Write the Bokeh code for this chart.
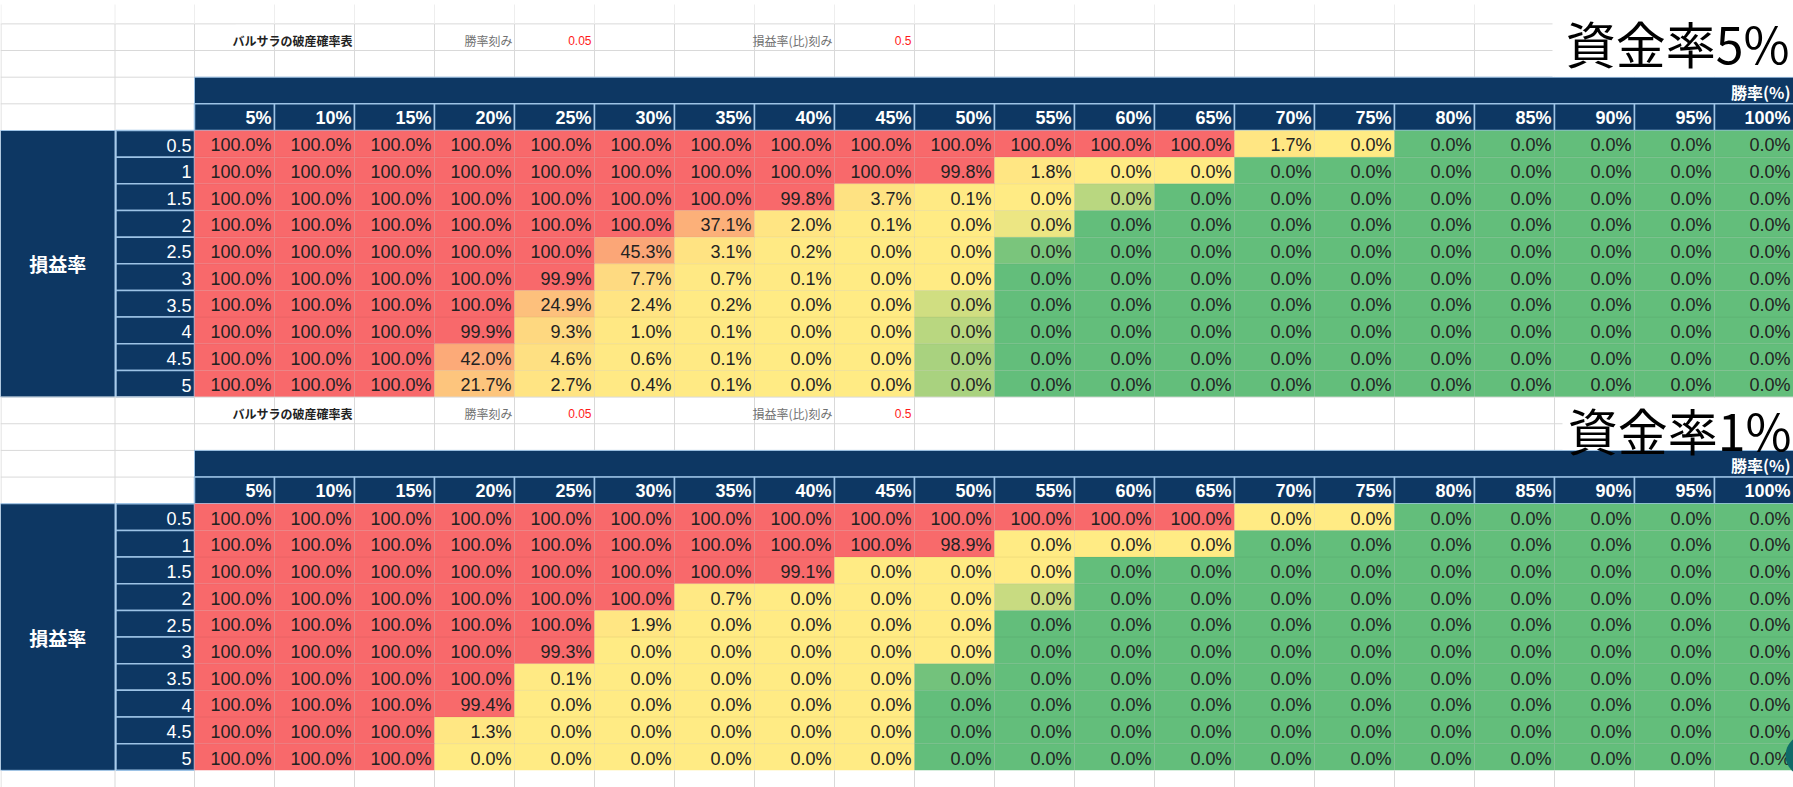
from bokeh.plotting import figure
from bokeh.models import Range1d
from bokeh.embed import file_html
from bokeh.resources import INLINE
from bokeh.core.properties import value

# ---------------- data ----------------
win_rates = ["5%", "10%", "15%", "20%", "25%", "30%", "35%", "40%", "45%", "50%",
             "55%", "60%", "65%", "70%", "75%", "80%", "85%", "90%", "95%", "100%"]
pl_ratios = ["0.5", "1", "1.5", "2", "2.5", "3", "3.5", "4", "4.5", "5"]

# ruin probability, capital rate 5%
ruin_5 = [
    [1, 1, 1, 1, 1, 1, 1, 1, 1, 1, 1, 1, 1, 0.017, 0, 0, 0, 0, 0, 0],
    [1, 1, 1, 1, 1, 1, 1, 1, 1, 0.998, 0.018, 0, 0, 0, 0, 0, 0, 0, 0, 0],
    [1, 1, 1, 1, 1, 1, 1, 0.998, 0.037, 0.001, 0, 0, 0, 0, 0, 0, 0, 0, 0, 0],
    [1, 1, 1, 1, 1, 1, 0.371, 0.020, 0.001, 0, 0, 0, 0, 0, 0, 0, 0, 0, 0, 0],
    [1, 1, 1, 1, 1, 0.453, 0.031, 0.002, 0, 0, 0, 0, 0, 0, 0, 0, 0, 0, 0, 0],
    [1, 1, 1, 1, 0.999, 0.077, 0.007, 0.001, 0, 0, 0, 0, 0, 0, 0, 0, 0, 0, 0, 0],
    [1, 1, 1, 1, 0.249, 0.024, 0.002, 0, 0, 0, 0, 0, 0, 0, 0, 0, 0, 0, 0, 0],
    [1, 1, 1, 0.999, 0.093, 0.010, 0.001, 0, 0, 0, 0, 0, 0, 0, 0, 0, 0, 0, 0, 0],
    [1, 1, 1, 0.420, 0.046, 0.006, 0.001, 0, 0, 0, 0, 0, 0, 0, 0, 0, 0, 0, 0, 0],
    [1, 1, 1, 0.217, 0.027, 0.004, 0.001, 0, 0, 0, 0, 0, 0, 0, 0, 0, 0, 0, 0, 0],
]
# colour-scale position on the green side (hidden precision of the 0.0% cells)
shade_5 = [
    [0, 0, 0, 0, 0, 0, 0, 0, 0, 0, 0, 0, 0, 0, 0, 1, 1, 1, 1, 1],
    [0, 0, 0, 0, 0, 0, 0, 0, 0, 0, 0, 0, 0, 1, 1, 1, 1, 1, 1, 1],
    [0, 0, 0, 0, 0, 0, 0, 0, 0, 0, 0, 0.45, 1, 1, 1, 1, 1, 1, 1, 1],
    [0, 0, 0, 0, 0, 0, 0, 0, 0, 0, 0.12, 1, 1, 1, 1, 1, 1, 1, 1, 1],
    [0, 0, 0, 0, 0, 0, 0, 0, 0, 0, 0.85, 1, 1, 1, 1, 1, 1, 1, 1, 1],
    [0, 0, 0, 0, 0, 0, 0, 0, 0, 0, 1, 1, 1, 1, 1, 1, 1, 1, 1, 1],
    [0, 0, 0, 0, 0, 0, 0, 0, 0, 0.30, 1, 1, 1, 1, 1, 1, 1, 1, 1, 1],
    [0, 0, 0, 0, 0, 0, 0, 0, 0, 0.45, 1, 1, 1, 1, 1, 1, 1, 1, 1, 1],
    [0, 0, 0, 0, 0, 0, 0, 0, 0, 0.55, 1, 1, 1, 1, 1, 1, 1, 1, 1, 1],
    [0, 0, 0, 0, 0, 0, 0, 0, 0, 0.55, 1, 1, 1, 1, 1, 1, 1, 1, 1, 1],
]

# ruin probability, capital rate 1%
ruin_1 = [
    [1, 1, 1, 1, 1, 1, 1, 1, 1, 1, 1, 1, 1, 0, 0, 0, 0, 0, 0, 0],
    [1, 1, 1, 1, 1, 1, 1, 1, 1, 0.989, 0, 0, 0, 0, 0, 0, 0, 0, 0, 0],
    [1, 1, 1, 1, 1, 1, 1, 0.991, 0, 0, 0, 0, 0, 0, 0, 0, 0, 0, 0, 0],
    [1, 1, 1, 1, 1, 1, 0.007, 0, 0, 0, 0, 0, 0, 0, 0, 0, 0, 0, 0, 0],
    [1, 1, 1, 1, 1, 0.019, 0, 0, 0, 0, 0, 0, 0, 0, 0, 0, 0, 0, 0, 0],
    [1, 1, 1, 1, 0.993, 0, 0, 0, 0, 0, 0, 0, 0, 0, 0, 0, 0, 0, 0, 0],
    [1, 1, 1, 1, 0.001, 0, 0, 0, 0, 0, 0, 0, 0, 0, 0, 0, 0, 0, 0, 0],
    [1, 1, 1, 0.994, 0, 0, 0, 0, 0, 0, 0, 0, 0, 0, 0, 0, 0, 0, 0, 0],
    [1, 1, 1, 0.013, 0, 0, 0, 0, 0, 0, 0, 0, 0, 0, 0, 0, 0, 0, 0, 0],
    [1, 1, 1, 0, 0, 0, 0, 0, 0, 0, 0, 0, 0, 0, 0, 0, 0, 0, 0, 0],
]
shade_1 = [
    [0, 0, 0, 0, 0, 0, 0, 0, 0, 0, 0, 0, 0, 0, 0, 1, 1, 1, 1, 1],
    [0, 0, 0, 0, 0, 0, 0, 0, 0, 0, 0, 0, 0, 1, 1, 1, 1, 1, 1, 1],
    [0, 0, 0, 0, 0, 0, 0, 0, 0, 0, 0, 1, 1, 1, 1, 1, 1, 1, 1, 1],
    [0, 0, 0, 0, 0, 0, 0, 0, 0, 0, 0.35, 1, 1, 1, 1, 1, 1, 1, 1, 1],
    [0, 0, 0, 0, 0, 0, 0, 0, 0, 0, 1, 1, 1, 1, 1, 1, 1, 1, 1, 1],
    [0, 0, 0, 0, 0, 0, 0, 0, 0, 0, 1, 1, 1, 1, 1, 1, 1, 1, 1, 1],
    [0, 0, 0, 0, 0, 0, 0, 0, 0, 0.90, 1, 1, 1, 1, 1, 1, 1, 1, 1, 1],
    [0, 0, 0, 0, 0, 0, 0, 0, 0, 1, 1, 1, 1, 1, 1, 1, 1, 1, 1, 1],
    [0, 0, 0, 0, 0, 0, 0, 0, 0, 1, 1, 1, 1, 1, 1, 1, 1, 1, 1, 1],
    [0, 0, 0, 0, 0, 0, 0, 0, 0, 1, 1, 1, 1, 1, 1, 1, 1, 1, 1, 1],
]

capital_labels = ["資金率5%", "資金率1%"]
sheet_title = "バルサラの破産確率表"
step_labels = ["勝率刻み", "損益率(比)刻み"]
step_values = ["0.05", "0.5"]
col_title = "勝率(%)"
row_title = "損益率"

# ---------------- layout / style ----------------
W, H = 1793, 787
NAVY = "#0d3763"
LBLUE = "#9dc3e6"
GRID = "#d9d9d9"
RED = (248, 105, 107)
YEL = (255, 235, 132)
GRN = (99, 190, 123)
A_R = 114.5          # right edge of column A
DX = 194.0           # left edge of the first data column
CW = 80.0            # data column width
RH = 26.66           # row height
NC = len(win_rates)
RIGHT = DX + CW * NC


def mix(c1, c2, t):
    return "#%02x%02x%02x" % tuple(int(round(a + (b - a) * t)) for a, b in zip(c1, c2))


def cell_color(v, g):
    if g > 0:
        return mix(YEL, GRN, g)
    return mix(YEL, RED, v ** 0.8)


p = figure(width=W, height=H, x_range=Range1d(0, W), y_range=Range1d(H, 0),
           output_backend="svg", toolbar_location=None,
           x_axis_location=None, y_axis_location=None, min_border=0,
           background_fill_color="white", border_fill_color="white")
p.grid.visible = False
p.outline_line_color = None

FONT = value("Liberation Sans")
JFONT = value("Noto Sans CJK JP")


def draw_table(y_data, ruin, shade, cap_label, box_left, box_top, cap_x, cap_y):
    t_title = y_data - 4 * RH
    t_empty = y_data - 3 * RH
    t_band = y_data - 2 * RH
    t_head = y_data - RH
    y_end = y_data + RH * len(pl_ratios)

    # light spreadsheet grid in the white rows
    col_edges = [0.5, A_R, DX] + [DX + CW * (i + 1) for i in range(NC)]
    x0s, x1s, y0s, y1s = [], [], [], []
    for x in col_edges:
        x0s.append(x); x1s.append(x); y0s.append(t_title); y1s.append(t_band)
    for y in (t_title, t_empty, t_band):
        x0s.append(0); x1s.append(RIGHT); y0s.append(y); y1s.append(y)
    for x in (0.5, A_R):
        x0s.append(x); x1s.append(x); y0s.append(t_band); y1s.append(y_data)
    for y in (t_head,):
        x0s.append(0); x1s.append(DX); y0s.append(y); y1s.append(y)
    p.segment(x0=x0s, y0=y0s, x1=x1s, y1=y1s, line_color=GRID, line_width=1)

    # title row texts
    p.quad(left=[DX + 41], right=[DX + CW - 1], top=[t_title + 1], bottom=[t_empty - 1],
           fill_color="white", line_color=None)
    ty = t_title + RH * 0.62
    p.text(x=[DX + 2 * CW - 2], y=[ty], text=[sheet_title], text_align="right",
           text_baseline="middle", text_font=JFONT, text_font_size="12px",
           text_font_style="bold", text_color="#222222")
    p.text(x=[DX + 4 * CW - 2, DX + 8 * CW - 2], y=[ty, ty], text=step_labels,
           text_align="right", text_baseline="middle", text_font=JFONT,
           text_font_size="12px", text_color="#707070")
    p.text(x=[DX + 5 * CW - 3, DX + 9 * CW - 3], y=[ty, ty], text=step_values,
           text_align="right", text_baseline="middle", text_font=FONT,
           text_font_size="12px", text_color="#ff1a1a")

    # band with column title
    p.quad(left=[DX], right=[RIGHT], top=[t_band], bottom=[t_head],
           fill_color=NAVY, line_color=LBLUE, line_width=1)
    p.text(x=[1790], y=[t_band + RH * 0.5 + 1], text=[col_title], text_align="right",
           text_baseline="middle", text_font=JFONT, text_font_size="16px",
           text_font_style="bold", text_color="white")

    # header row
    lefts = [DX + CW * i for i in range(NC)]
    p.quad(left=lefts, right=[l + CW for l in lefts], top=[t_head] * NC,
           bottom=[y_data] * NC, fill_color=NAVY, line_color=LBLUE, line_width=1.5)
    p.text(x=[min(l + CW - 3, 1790) for l in lefts], y=[t_head + RH * 0.5 + 0.5] * NC,
           text=win_rates, text_align="right", text_baseline="middle",
           text_font=FONT, text_font_size="18px", text_font_style="bold",
           text_color="white")

    # row title column A and row labels column B
    p.quad(left=[0], right=[A_R], top=[y_data], bottom=[y_end], fill_color=NAVY,
           line_color=LBLUE, line_width=1)
    p.text(x=[A_R / 2], y=[(y_data + y_end) / 2], text=[row_title], text_align="center",
           text_baseline="middle", text_font=JFONT, text_font_size="19px",
           text_font_style="bold", text_color="white")
    nr = len(pl_ratios)
    tops = [y_data + RH * r for r in range(nr)]
    p.quad(left=[A_R + 1] * nr, right=[DX] * nr, top=tops, bottom=[t + RH for t in tops],
           fill_color=NAVY, line_color=LBLUE, line_width=1.5)
    p.text(x=[DX - 3] * nr, y=[t + RH * 0.5 + 1.5 for t in tops], text=pl_ratios,
           text_align="right", text_baseline="middle", text_font=FONT,
           text_font_size="18px", text_color="white")

    # data cells
    L, R, T, B, C, TX, TY, TT = [], [], [], [], [], [], [], []
    for r in range(nr):
        for c in range(NC):
            v = ruin[r][c]
            L.append(DX + CW * c); R.append(DX + CW * (c + 1))
            T.append(tops[r]); B.append(tops[r] + RH)
            C.append(cell_color(v, shade[r][c]))
            TX.append(min(DX + CW * (c + 1) - 3, 1790)); TY.append(tops[r] + RH * 0.5 + 1.5)
            TT.append(f"{v * 100:.1f}%")
    p.quad(left=L, right=R, top=T, bottom=B, fill_color=C, line_color=None)
    gx0, gx1, gy0, gy1 = [], [], [], []
    for c in range(1, NC):
        gx0.append(DX + CW * c); gx1.append(DX + CW * c); gy0.append(y_data); gy1.append(y_end)
    for r in range(1, nr):
        gx0.append(DX); gx1.append(RIGHT); gy0.append(tops[r]); gy1.append(tops[r])
    p.segment(x0=gx0, y0=gy0, x1=gx1, y1=gy1, line_color="black", line_alpha=0.06,
              line_width=1)
    p.text(x=TX, y=TY, text=TT, text_align="right", text_baseline="middle",
           text_font=FONT, text_font_size="18px", text_color="#222222")

    # capital-rate caption on a white patch
    p.quad(left=[box_left], right=[1800], top=[box_top], bottom=[t_band - 0.5],
           fill_color="white", line_color=None)
    p.text(x=[cap_x], y=[cap_y], text=[cap_label], text_align="right",
           text_baseline="middle", text_font=JFONT, text_font_size="50px",
           text_color="black")
    return y_end


y_end1 = draw_table(130.0, ruin_5, shade_5, capital_labels[0], 1552, 0, 1789, 41)
y_end2 = draw_table(y_end1 + 4 * RH, ruin_1, shade_1, capital_labels[1], 1562, y_end1 + 1,
                    1791, 428)

# top and bottom partial spreadsheet rows
edges = [0.5, A_R, DX] + [DX + CW * (i + 1) for i in range(NC)]
top_edges = [x for x in edges if x < 1552]
p.segment(x0=top_edges, y0=[4] * len(top_edges), x1=top_edges,
          y1=[130 - 4 * RH] * len(top_edges), line_color="#eeeeee", line_width=1)
p.segment(x0=edges, y0=[y_end2] * len(edges), x1=edges, y1=[790] * len(edges),
          line_color=GRID, line_width=1)

# screen overlay button partly visible at the bottom-right edge
p.circle(x=[1806], y=[755], radius=21, fill_color="#0f6b69", line_color=None)

open("out.html", "w", encoding="utf-8").write(file_html(p, INLINE))
